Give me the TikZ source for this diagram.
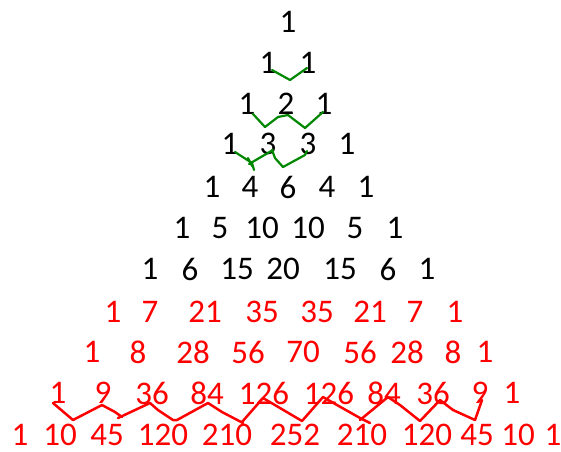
\documentclass[tikz,border=0pt]{standalone}
\usepackage{fontspec}
\setmainfont{Carlito}
\begin{document}
\begin{tikzpicture}[x=1pt,y=-1pt,
  num/.style={inner sep=0pt, font=\fontsize{33}{40}\selectfont},
  blk/.style={num, text=black},
  rd/.style={num, text=red},
  greenstroke/.style={draw={rgb,255:red,0;green,135;blue,0}, line width=2.2pt, line join=round, line cap=round},
  redstroke/.style={draw=red, line width=2.5pt, line join=round, line cap=round}]
\useasboundingbox (0,0) rectangle (561,451);

% Rows 0-6 in black
\foreach \x/\t [count=\i] in {288/1}
  \node[blk] (r0-\i) at (\x,22) {\t};
\foreach \x/\t [count=\i] in {268/1,308/1}
  \node[blk] (r1-\i) at (\x,63) {\t};
\foreach \x/\t [count=\i] in {247/1,286/2,324/1}
  \node[blk] (r2-\i) at (\x,104) {\t};
\foreach \x/\t [count=\i] in {230/1,268/3,308/3,347/1}
  \node[blk] (r3-\i) at (\x,144) {\t};
\foreach \x/\t [count=\i] in {212/1,250/4,288/6,327/4,366/1}
  \node[blk] (r4-\i) at (\x,187) {\t};
\foreach \x/\t [count=\i] in {182/1,220/5,262/10,308/10,355/5,395/1}
  \node[blk] (r5-\i) at (\x,228) {\t};
\foreach \x/\t [count=\i] in {150/1,190/6,237/15,283/20,340/15,388/6,427/1}
  \node[blk] (r6-\i) at (\x,269) {\t};

% Rows 7-10 in red
\foreach \x/\t [count=\i] in {113/1,150/7,205/21,262/35,317/35,370/21,415/7,455/1}
  \node[rd] (r7-\i) at (\x,312) {\t};
\foreach \x/\t [count=\i] in {92/1,138/8,193/28,248/56,303/70,360/56,407/28,453/8,485/1}
  \node[rd] (r8-\i) at (\x,352) {\t};
\foreach \x/\t [count=\i] in {58/1,103/9,152/36,207/84,264/126,329/126,384/84,433/36,480/9,512/1}
  \node[rd] (r9-\i) at (\x,393) {\t};
\foreach \x/\t [count=\i] in {20/1,60/10,107/45,163/120,227/210,295/252,362/210,427/120,477/45,518/10,553/1}
  \node[rd] (r10-\i) at (\x,435) {\t};

% Green hand-drawn zigzags in the upper rows
\draw[greenstroke] (272,70) -- (290,80) -- (307,68);
\draw[greenstroke] (253,114) -- (265,127) -- (278,117) -- (288,115);
\draw[greenstroke] (288,115) -- (305,128) -- (323,112);
\draw[greenstroke] (235,152) -- (252,163) -- (254,170);
\draw[greenstroke] (249,164) -- (273,150);
\draw[greenstroke] (248,158) -- (252,166);
\draw[greenstroke] (272,150) -- (275,158) -- (283,167) -- (305,155) -- (307,151);

% Red hand-drawn zigzag between rows 9 and 10
\draw[redstroke] (53,403) -- (73,420) -- (102,405) -- (115,412) -- (122,417);
\draw[redstroke] (118,418) -- (150,403) -- (158,410) -- (173,420) -- (177,420)
  -- (208,403) -- (222,412) -- (243,423);
\draw[redstroke] (242,422) -- (263,398) -- (280,408) -- (302,421) -- (323,397)
  -- (337,405) -- (360,418) -- (370,423);
\draw[redstroke] (360,420) -- (388,397) -- (400,405) -- (420,421) -- (440,400)
  -- (453,410) -- (475,420) -- (482,400);
\end{tikzpicture}
\end{document}
